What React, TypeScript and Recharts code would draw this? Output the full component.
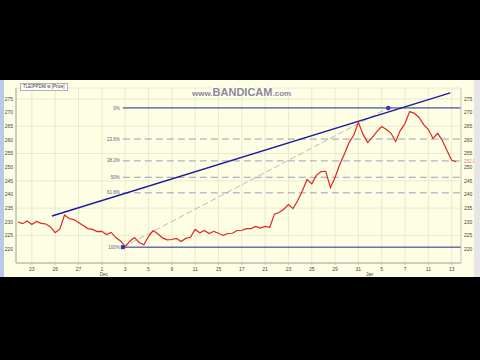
import React from "react";
import {
  ComposedChart,
  Line,
  XAxis,
  YAxis,
  CartesianGrid,
  ReferenceLine,
  ReferenceDot,
} from "recharts";

// day labels along the bottom, one every 5 bars
const dayLabels = ["23", "26", "27", "1", "3", "5", "9", "11", "15", "17", "21", "23", "25", "29", "31", "5", "7", "11", "13"];
const monthLabels: Record<number, string> = { 3: "Dec", 15: "Jan" };

// close price per bar
const price = [
  229.9, 229.3, 230.3, 229.0, 230.1, 229.4, 229.2, 228.1, 226.0, 227.4,
  232.5, 231.2, 230.8, 229.7, 228.6, 227.5, 227.2, 226.4, 226.5, 225.3,
  226.1, 224.2, 223.0, 220.9, 222.9, 224.2, 222.4, 221.6, 224.6, 226.8,
  225.6, 224.1, 223.4, 223.5, 223.9, 222.8, 223.9, 224.3, 227.2, 226.0,
  226.8, 225.7, 226.5, 225.8, 225.0, 225.7, 225.8, 226.8, 226.9, 227.5,
  227.5, 228.3, 227.7, 228.3, 228.0, 232.8, 233.4, 234.6, 236.3, 234.8,
  237.8, 241.4, 245.5, 243.9, 247.0, 248.4, 248.5, 242.5, 246.2, 251.0,
  254.8, 259.0, 261.7, 266.4, 262.0, 259.0, 260.9, 263.1, 264.9, 263.8,
  262.4, 259.4, 263.5, 266.0, 270.4, 269.7, 268.2, 265.6, 263.8, 260.5,
  262.4, 259.8, 256.1, 252.5, 252.0,
];

const yTicks = [220, 225, 230, 235, 240, 245, 250, 255, 260, 265, 270, 275];

// fibonacci retracement levels
const fibLabels = ["0%", "23.6%", "38.2%", "50%", "61.8%", "100%"];
const fibValues = [271.7, 260.3, 252.3, 246.3, 240.6, 220.7];
const fibStart = 22.5;
const fibHighBar = 79.4;

// trend line end points
const trendFrom = { x: 7.3, y: 232.1 };
const trendTo = { x: 92.7, y: 277.2 };

const lastPrice = "252.0";

const rows = price.map((p, i) => ({ i, price: p }));
const dayTicks = dayLabels.map((_, k) => 3 + 5 * k);

const FONT = "'Liberation Sans', Arial, sans-serif";

function DayTick(props: any) {
  const { x, y, payload } = props;
  const k = dayTicks.indexOf(payload.value);
  const month = monthLabels[k];
  return (
    <g>
      <text x={x} y={y + 4} textAnchor="middle" fontSize={5} fill="#444" fontFamily={FONT}>
        {dayLabels[k]}
      </text>
      {month && (
        <text x={k === 15 ? x - 12 : x + 2} y={y + 8.5} textAnchor="middle" fontSize={4.5} fill="#444" fontFamily={FONT}>
          {month}
        </text>
      )}
    </g>
  );
}

export default function App() {
  return (
    <div style={{ position: "fixed", left: 0, top: 0, width: 480, height: 360, background: "#000", overflow: "hidden" }}>
      <div style={{ position: "absolute", left: 0, top: 80, width: 474, height: 197, background: "#fefee4" }}>
        <div style={{ position: "absolute", left: 0, top: 0, width: 4, height: 197, background: "#b9c9e6" }} />
        <div style={{ position: "absolute", left: 474, top: 0, width: 6, height: 197, background: "#e6e6e6" }} />
        <ComposedChart
          width={474}
          height={197}
          data={rows}
          margin={{ top: 8, right: 0, bottom: 1, left: 4 }}
          style={{ fontFamily: FONT }}
        >
          <CartesianGrid stroke="#e4e4c6" strokeWidth={0.8} yAxisId="left" />
          <XAxis
            dataKey="i"
            type="number"
            domain={[-0.4, 95]}
            ticks={dayTicks}
            interval={0}
            height={13}
            tick={<DayTick />}
            tickLine={{ stroke: "#c8c8b0" }}
            tickSize={2}
            axisLine={{ stroke: "#a8a8a0" }}
            allowDataOverflow
          />
          <YAxis
            yAxisId="left"
            domain={[214.9, 279]}
            ticks={yTicks}
            width={12}
            tickSize={2}
            tickMargin={1}
            tick={{ fontSize: 5, fill: "#444" }}
            tickLine={false}
            axisLine={{ stroke: "#a8a8a0" }}
            allowDataOverflow
          />
          <YAxis
            yAxisId="right"
            orientation="right"
            domain={[214.9, 279]}
            ticks={yTicks}
            width={13}
            tickSize={2}
            tickMargin={1}
            tick={{ fontSize: 5, fill: "#444" }}
            tickLine={false}
            axisLine={{ stroke: "#d0d0c0" }}
            allowDataOverflow
          />
          {fibValues.map((v, k) => {
            const solid = k === 0 || k === fibValues.length - 1;
            return (
              <ReferenceLine
                key={fibLabels[k]}
                yAxisId="left"
                segment={[{ x: fibStart, y: v }, { x: 95, y: v }]}
                stroke={solid ? "#1c2a8c" : "#8c96b4"}
                strokeWidth={solid ? 1 : 0.9}
                strokeDasharray={solid ? undefined : "7 4"}
                label={{ value: fibLabels[k], position: "left", offset: 3, fontSize: 4.5, fill: "#55608a" }}
              />
            );
          })}
          <ReferenceLine
            yAxisId="left"
            segment={[{ x: fibStart, y: fibValues[5] }, { x: fibHighBar, y: fibValues[0] }]}
            stroke="#a8a8a8"
            strokeWidth={0.8}
            strokeDasharray="6 3"
          />
          <ReferenceLine
            yAxisId="left"
            segment={[trendFrom, trendTo]}
            stroke="#1c1c9c"
            strokeWidth={1.4}
          />
          <Line
            yAxisId="left"
            dataKey="price"
            type="linear"
            stroke="#e02424"
            strokeWidth={1.2}
            dot={false}
            isAnimationActive={false}
          />
          <ReferenceDot yAxisId="left" x={fibHighBar} y={fibValues[0]} r={2.2} fill="#2a3ab4" stroke="none" />
          <ReferenceDot
            yAxisId="left"
            x={fibStart}
            y={fibValues[5]}
            r={2}
            shape={(p: any) => <rect x={p.cx - 2} y={p.cy - 2} width={4} height={4} fill="#2a3ab4" />}
          />
          <ReferenceLine
            yAxisId="right"
            y={252}
            stroke="none"
            label={{ value: lastPrice, position: "right", offset: 3, fontSize: 4.5, fill: "#e07890" }}
          />
        </ComposedChart>
        <div
          style={{
            position: "absolute",
            left: 20,
            top: 3,
            padding: "0 2px",
            background: "#fff",
            border: "1px solid #b0b0b0",
            fontSize: 4.5,
            lineHeight: "6px",
            color: "#333",
            fontFamily: FONT,
          }}
        >
          TLEIPPDW w [Price]
        </div>
        <div
          style={{
            position: "absolute",
            left: 192,
            top: 4,
            width: 96,
            textAlign: "center",
            fontFamily: FONT,
            fontWeight: "bold",
            color: "#8a8a8a",
            lineHeight: "14px",
            whiteSpace: "nowrap",
            textShadow: "1px 0 #fff, -1px 0 #fff, 0 1px #fff, 0 -1px #fff",
          }}
        >
          <span style={{ fontSize: 8 }}>www.</span>
          <span style={{ fontSize: 11 }}>BANDICAM</span>
          <span style={{ fontSize: 8 }}>.com</span>
        </div>
      </div>
    </div>
  );
}
